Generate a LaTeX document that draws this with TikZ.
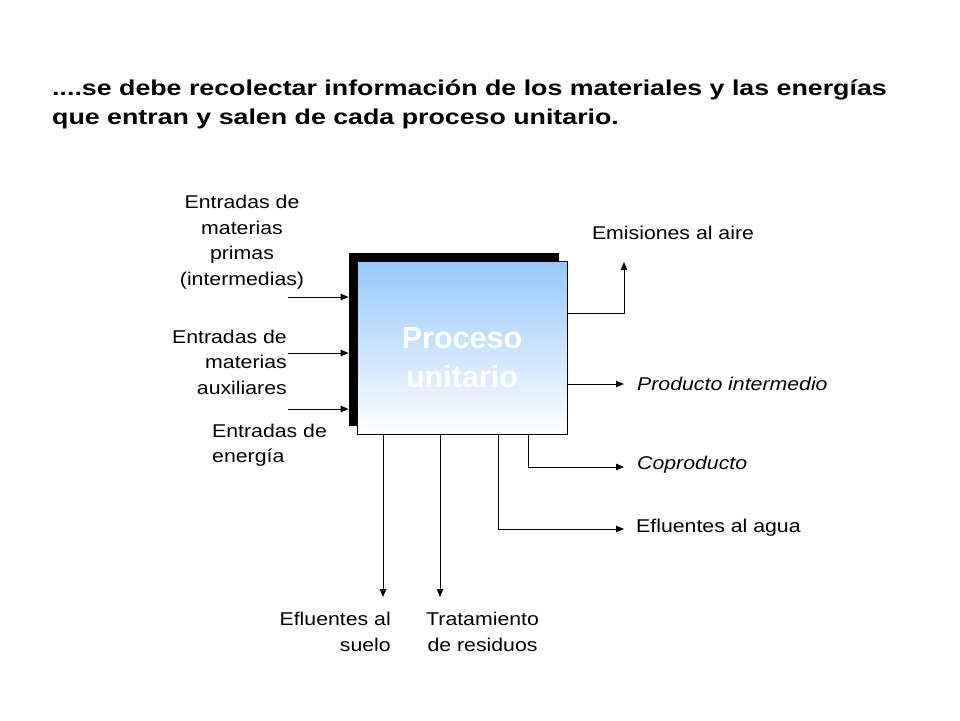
\documentclass[tikz,border=0pt]{standalone}
\usepackage{fontspec}
\setmainfont{Liberation Sans}[FakeStretch=1.15]
\newfontfamily\titlefont{Liberation Sans}[FakeStretch=1.245]
\newfontfamily\boxfont{Liberation Sans}
\usetikzlibrary{shadows, positioning, arrows.meta}
\definecolor{skyblue}{RGB}{150,200,252}

\begin{document}
\begin{tikzpicture}[
        x=1pt, y=-1pt,
        font=\fontsize{18.5}{25.5}\selectfont,
        % Styles
        procbox/.style={draw=black, line width=0.9pt, top color=skyblue, bottom color=white, minimum width=210pt, minimum height=173pt, drop shadow={shadow xshift=-8pt, shadow yshift=8pt, opacity=1, fill=black}},
        boxtext/.style={font=\boxfont\bfseries\fontsize{30.5}{39}\selectfont, text=white, align=center, inner sep=0pt},
        title/.style={font=\titlefont\bfseries\fontsize{21.5}{28.5}\selectfont, align=left, inner sep=0pt},
        lbl/.style={inner sep=0pt},
        arrow/.style={-{Triangle[length=8pt, width=6.5pt]}, line width=1pt}
    ]
    \useasboundingbox (0,0) rectangle (960,720);

    % Heading
    \node[title, anchor=north west] (head) at (52,80) {....se debe recolectar información de los materiales y las energías\\que entran y salen de cada proceso unitario.};

    % Unit process
    \node[procbox] (proc) at (462,347.5) {};
    \node[boxtext] (proctext) at ([yshift=-10pt]proc.center) {Proceso\\unitario};
    \coordinate (shadw) at ([xshift=-8pt]proc.west);

    % Inputs (left)
    \node[lbl, align=center] (primas) at (242,242) {Entradas de\\materias\\primas\\(intermedias)};
    \node[lbl, align=right, anchor=east] (aux) at (287,362) {Entradas de\\materias\\auxiliares};
    \node[lbl, align=left, anchor=west] (energ) at (212,445) {Entradas de\\energía};
    \coordinate (in1) at (288,297);
    \coordinate (in2) at (288,353);
    \coordinate (in3) at (288,409);
    \draw[arrow] (in1) -- (in1 -| shadw);
    \draw[arrow] (in2) -- (in2 -| shadw);
    \draw[arrow] (in3) -- (in3 -| shadw);

    % Outputs (right)
    \node[lbl] (emis) at (673,233) {Emisiones al aire};
    \node[lbl, anchor=west] (prodlbl) at (637,384) {\itshape Producto intermedio};
    \node[lbl, anchor=west] (coprlbl) at (637,465) {\itshape Coproducto};
    \node[lbl, anchor=west] (agualbl) at (636,528) {Efluentes al agua};
    \coordinate (air) at (624,262);
    \coordinate (prod) at (624,384);
    \coordinate (copr) at (624,467);
    \coordinate (agua) at (624,529);
    \draw[arrow] ([yshift=34.5pt]proc.east) -| (air);
    \draw[arrow] (proc.east |- prod) -- (prod);
    \draw[arrow] ([xshift=66pt]proc.south) |- (copr);
    \draw[arrow] ([xshift=36pt]proc.south) |- (agua);

    % Outputs (bottom)
    \node[lbl, align=right, anchor=east] (suelolbl) at (391,632) {Efluentes al\\suelo};
    \node[lbl, align=center, anchor=west] (residlbl) at (426,632) {Tratamiento\\de residuos};
    \coordinate (suelo) at (383,597);
    \coordinate (resid) at (440,597);
    \draw[arrow] (proc.south -| suelo) -- (suelo);
    \draw[arrow] (proc.south -| resid) -- (resid);

\end{tikzpicture}
\end{document}
